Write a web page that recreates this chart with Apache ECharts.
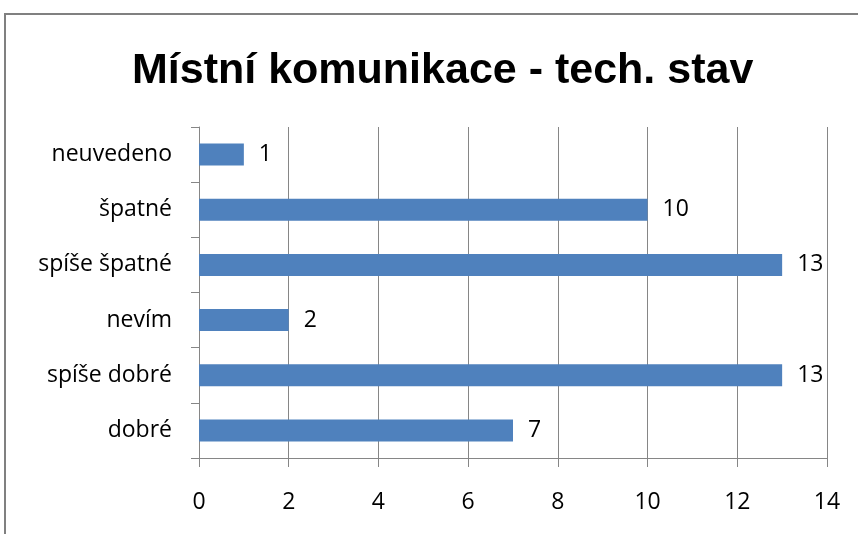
<!DOCTYPE html>
<html>
<head>
<meta charset="utf-8">
<script src="https://cdn.jsdelivr.net/npm/echarts@6/dist/echarts.min.js"></script>
<style>
html,body{margin:0;padding:0;background:#fff;}
#chart{width:858px;height:534px;}
</style>
</head>
<body>
<div id="chart"></div>
<script>
// Road condition survey: counts per answer
const categories = ['dobré', 'spíše dobré', 'nevím', 'spíše špatné', 'špatné', 'neuvedeno'];
const counts = [7, 13, 2, 13, 10, 1];
const xTicks = { min: 0, max: 14, interval: 2 };

const gridColor = '#868686';
const titleFont = '"Liberation Sans", Arial, sans-serif';
const font = '"Open Sans", "Liberation Sans", sans-serif';

const chart = echarts.init(document.getElementById('chart'));
chart.setOption({
  animation: false,
  backgroundColor: '#fff',
  title: {
    text: 'Místní komunikace - tech. stav',
    left: 127,
    top: 45,
    textStyle: { fontFamily: titleFont, fontWeight: 'bold', fontSize: 43, color: '#000' }
  },
  graphic: [{
    type: 'rect',
    shape: { x: 5, y: 14, width: 900, height: 600 },
    style: { fill: 'none', stroke: '#808080', lineWidth: 2 },
    silent: true
  }],
  grid: { left: 199, right: 31, top: 127, bottom: 76 },
  xAxis: {
    type: 'value',
    min: xTicks.min, max: xTicks.max, interval: xTicks.interval,
    axisLine: { show: true, lineStyle: { color: gridColor, width: 1 } },
    axisTick: { show: true, length: 9, inside: false, lineStyle: { color: gridColor } },
    splitLine: { show: true, lineStyle: { color: gridColor, width: 1 } },
    axisLabel: { margin: 33, fontFamily: font, fontSize: 23, color: '#000' }
  },
  yAxis: {
    type: 'category',
    data: categories,
    axisLine: { show: true, lineStyle: { color: gridColor, width: 1 } },
    axisTick: { show: true, length: 8, lineStyle: { color: gridColor } },
    axisLabel: { margin: 27, fontFamily: font, fontSize: 23, color: '#000' }
  },
  series: [{
    type: 'bar',
    data: counts,
    barWidth: 22,
    itemStyle: { color: '#4F81BD' },
    label: {
      show: true,
      position: 'right',
      distance: 15,
      fontFamily: font,
      fontSize: 23,
      color: '#000'
    }
  }]
});
</script>
</body>
</html>
